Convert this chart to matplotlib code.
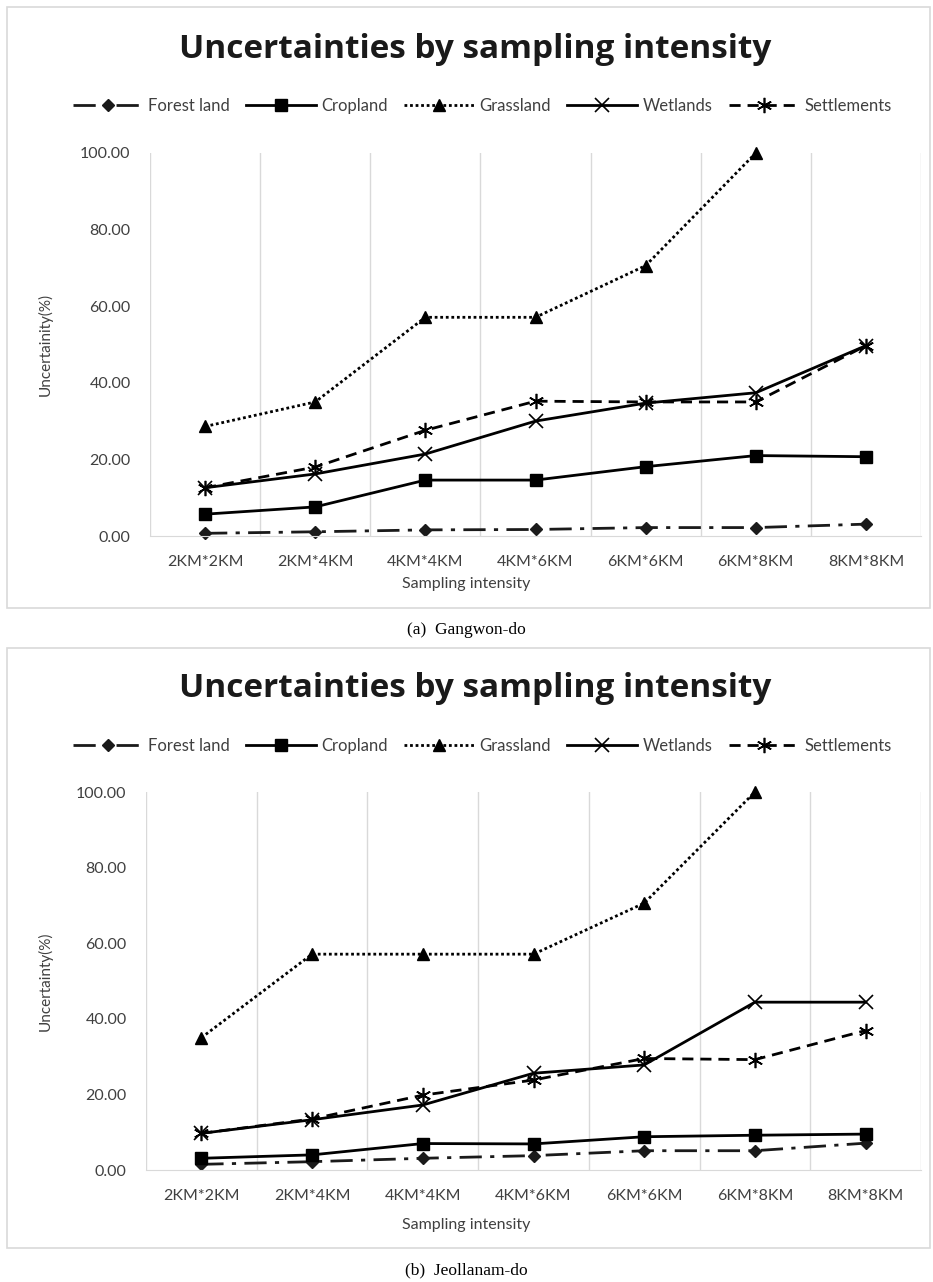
import numpy as np
import matplotlib
matplotlib.use("Agg")
import matplotlib.pyplot as plt
from matplotlib.patches import Rectangle

plt.rcParams['font.family'] = ['Lato', 'DejaVu Sans']

# categories on the x axis
intensity = ["2KM*2KM", "2KM*4KM", "4KM*4KM", "4KM*6KM", "6KM*6KM", "6KM*8KM", "8KM*8KM"]
series_names = ["Forest land", "Cropland", "Grassland", "Wetlands", "Settlements"]

# (a) Gangwon-do
forest_a = [0.7, 1.1, 1.6, 1.7, 2.2, 2.2, 3.1]
crop_a = [5.7, 7.6, 14.6, 14.6, 18.1, 21.0, 20.7]
grass_a = [28.6, 35.0, 57.1, 57.1, 70.6, 100.0, np.nan]
wet_a = [12.6, 16.2, 21.4, 30.0, 34.7, 37.4, 49.7]
settle_a = [12.6, 18.0, 27.6, 35.2, 35.0, 35.0, 49.7]

# (b) Jeollanam-do
forest_b = [1.5, 2.2, 3.1, 3.8, 5.1, 5.1, 7.1]
crop_b = [3.1, 4.0, 7.0, 6.9, 8.8, 9.2, 9.5]
grass_b = [35.0, 57.1, 57.1, 57.1, 70.6, 100.0, np.nan]
wet_b = [9.7, 13.3, 17.2, 25.6, 27.8, 44.4, 44.4]
settle_b = [9.7, 13.5, 19.8, 23.8, 29.5, 29.2, 36.9]

styles = [
    dict(color='#1a1a1a', linestyle=(0, (8, 3, 1.5, 3)), marker='D', markersize=6),
    dict(color='black', linestyle='-', marker='s', markersize=9),
    dict(color='black', linestyle=(0, (1, 1)), marker='^', markersize=9),
    dict(color='black', linestyle='-', marker='x', markersize=10, markeredgewidth=1.2),
    dict(color='black', linestyle=(0, (4, 2.5)), marker=(6, 2, 0), markersize=11, markeredgewidth=1.2),
]

W, H = 933, 1282
fig = plt.figure(figsize=(W / 100, H / 100), dpi=100)


def fx(px):
    return px / W


def fy(px):
    return 1 - px / H


def panel(frame_top, frame_bot, ax_left, ax_top, ax_bot, title_y, legend_y,
          xlab_y, data, ylabel, caption, cap_y):
    # light grey chart-area border
    fig.patches.append(Rectangle((fx(7), fy(frame_bot)), fx(923), (frame_bot - frame_top) / H,
                                 transform=fig.transFigure, fill=False,
                                 edgecolor='#d9d9d9', linewidth=1.2))
    ax = fig.add_axes([fx(ax_left), fy(ax_bot), fx(921 - ax_left), (ax_bot - ax_top) / H])
    x = np.arange(len(intensity))
    for name, vals, st in zip(series_names, data, styles):
        ax.plot(x, vals, linewidth=2, label=name, clip_on=False, **st)
    ax.set_xlim(-0.5, len(intensity) - 0.5)
    ax.set_ylim(0, 100)
    ax.set_yticks(np.arange(0, 101, 20))
    ax.set_yticklabels(["%.2f" % v for v in np.arange(0, 101, 20)], fontsize=11.5, color='#404040')
    ax.set_xticks(x)
    ax.set_xticklabels(intensity, fontsize=11.5, color='#404040')
    ax.set_xticks(np.arange(-0.5, len(intensity)), minor=True)
    ax.grid(True, which='minor', axis='x', color='#d9d9d9', linewidth=1)
    ax.tick_params(axis='both', which='both', length=0, pad=14)
    for s in ['top', 'right', 'left']:
        ax.spines[s].set_visible(False)
    ax.spines['bottom'].set_color('#d9d9d9')
    fig.text(fx(45), fy((ax_top + ax_bot) / 2), ylabel, rotation=90, ha='center', va='center',
             fontsize=11, color='#404040')
    fig.text(0.5, fy(xlab_y), "Sampling intensity", ha='center', va='center',
             fontsize=11.5, color='#404040')
    fig.text(fx(475), fy(title_y), "Uncertainties by sampling intensity", ha='center', va='center',
             fontsize=24, fontweight='bold', color='#1a1a1a', family='Open Sans')
    ax.legend(loc='center', bbox_to_anchor=(fx(482), fy(legend_y)), bbox_transform=fig.transFigure,
              ncol=5, frameon=False, fontsize=12, handlelength=4.2, columnspacing=1.0,
              handletextpad=0.3, labelcolor='#404040')
    fig.text(0.5, fy(cap_y), caption, ha='center', va='center', fontsize=12.5,
             family='Liberation Serif')
    return ax


panel(7, 608, 150, 153, 536, 50, 106, 584,
      [forest_a, crop_a, grass_a, wet_a, settle_a], "Uncertainity(%)", "(a)  Gangwon-do", 630)
panel(648, 1248, 146, 792, 1170, 689, 746, 1225,
      [forest_b, crop_b, grass_b, wet_b, settle_b], "Uncertainty(%)", "(b)  Jeollanam-do", 1270)

fig.savefig("out.png", dpi=100)
